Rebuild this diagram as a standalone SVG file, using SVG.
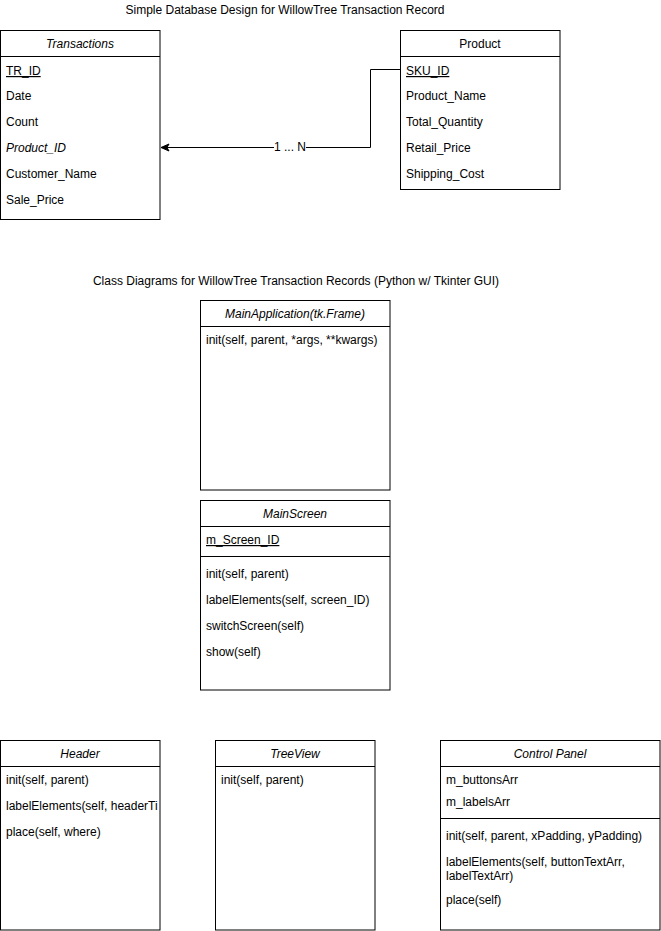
<svg xmlns="http://www.w3.org/2000/svg" width="661" height="931" viewBox="0 0 661 931">
<style>
text{font-family:"Liberation Sans",Arial,sans-serif;font-size:12px;fill:#000}
.t{text-anchor:middle;font-style:italic}
.c{text-anchor:middle}
.u{text-decoration:underline}
.i{font-style:italic}
.b{fill:#fff;stroke:#000;stroke-width:1}
.l{stroke:#000;stroke-width:1;fill:none}
</style>
<defs>
<marker id="arr" markerWidth="10" markerHeight="10" refX="9" refY="5" orient="auto" markerUnits="userSpaceOnUse">
<path d="M1,1.5 L9,5 L1,8.5 L3,5 Z" fill="#000" stroke="#000" stroke-width="1"/>
</marker>
<clipPath id="hclip"><rect x="0" y="740" width="158" height="190"/></clipPath>
</defs>
<rect width="661" height="931" fill="#fff"/>
<text class="c" x="285" y="14">Simple Database Design for WillowTree Transaction Record</text>
<text class="c" x="296" y="285">Class Diagrams for WillowTree Transaction Records (Python w/ Tkinter GUI)</text>

<g id="transactions">
<rect class="b" x="0.5" y="30.5" width="159.5" height="189"/>
<line class="l" x1="0.5" y1="56.5" x2="160" y2="56.5"/>
<text class="t" x="80" y="48">Transactions</text>
<text class="u" x="6" y="75">TR_ID</text>
<text x="6" y="100">Date</text>
<text x="6" y="126">Count</text>
<text class="i" x="6" y="152">Product_ID</text>
<text x="6" y="178">Customer_Name</text>
<text x="6" y="204">Sale_Price</text>
</g>

<g id="product">
<rect class="b" x="400.5" y="30.5" width="159.5" height="159"/>
<line class="l" x1="400.5" y1="56.5" x2="560" y2="56.5"/>
<text class="c" x="480" y="48">Product</text>
<text class="u" x="406" y="75">SKU_ID</text>
<text x="406" y="100">Product_Name</text>
<text x="406" y="126">Total_Quantity</text>
<text x="406" y="152">Retail_Price</text>
<text x="406" y="178">Shipping_Cost</text>
</g>

<g id="connectors">
<path class="l" d="M400.5,69.5 H370.5 V147.5 H161" marker-end="url(#arr)"/>
<rect x="274" y="141" width="32" height="12" fill="#fff"/>
<text class="c" x="290" y="151">1 ... N</text>
</g>

<g id="mainapplication">
<rect class="b" x="200.5" y="300.5" width="189.5" height="189.5"/>
<line class="l" x1="200.5" y1="326.5" x2="390" y2="326.5"/>
<text class="t" x="295" y="318">MainApplication(tk.Frame)</text>
<text x="206" y="344">init(self, parent, *args, **kwargs)</text>
</g>

<g id="mainscreen">
<rect class="b" x="200.5" y="500.5" width="189.5" height="189.5"/>
<line class="l" x1="200.5" y1="526.5" x2="390" y2="526.5"/>
<line class="l" x1="200.5" y1="556.5" x2="390" y2="556.5"/>
<text class="t" x="295" y="518">MainScreen</text>
<text class="u" x="206" y="544">m_Screen_ID</text>
<text x="206" y="578">init(self, parent)</text>
<text x="206" y="604">labelElements(self, screen_ID)</text>
<text x="206" y="630">switchScreen(self)</text>
<text x="206" y="656">show(self)</text>
</g>

<g id="header">
<rect class="b" x="0.5" y="740.5" width="159.5" height="189.5"/>
<line class="l" x1="0.5" y1="766.5" x2="160" y2="766.5"/>
<text class="t" x="80" y="758">Header</text>
<text x="6" y="784">init(self, parent)</text>
<text x="6" y="810" clip-path="url(#hclip)">labelElements(self, headerTi</text>
<text x="6" y="836">place(self, where)</text>
</g>

<g id="treeview">
<rect class="b" x="215.5" y="740.5" width="159.5" height="189.5"/>
<line class="l" x1="215.5" y1="766.5" x2="375" y2="766.5"/>
<text class="t" x="295" y="758">TreeView</text>
<text x="221" y="784">init(self, parent)</text>
</g>

<g id="controlpanel">
<rect class="b" x="440.5" y="740.5" width="219.5" height="189.5"/>
<line class="l" x1="440.5" y1="766.5" x2="660" y2="766.5"/>
<line class="l" x1="440.5" y1="818.5" x2="660" y2="818.5"/>
<text class="t" x="550" y="758">Control Panel</text>
<text x="446" y="784">m_buttonsArr</text>
<text x="446" y="806">m_labelsArr</text>
<text x="446" y="840">init(self, parent, xPadding, yPadding)</text>
<text x="446" y="866">labelElements(self, buttonTextArr,</text>
<text x="446" y="880">labelTextArr)</text>
<text x="446" y="904">place(self)</text>
</g>
</svg>
